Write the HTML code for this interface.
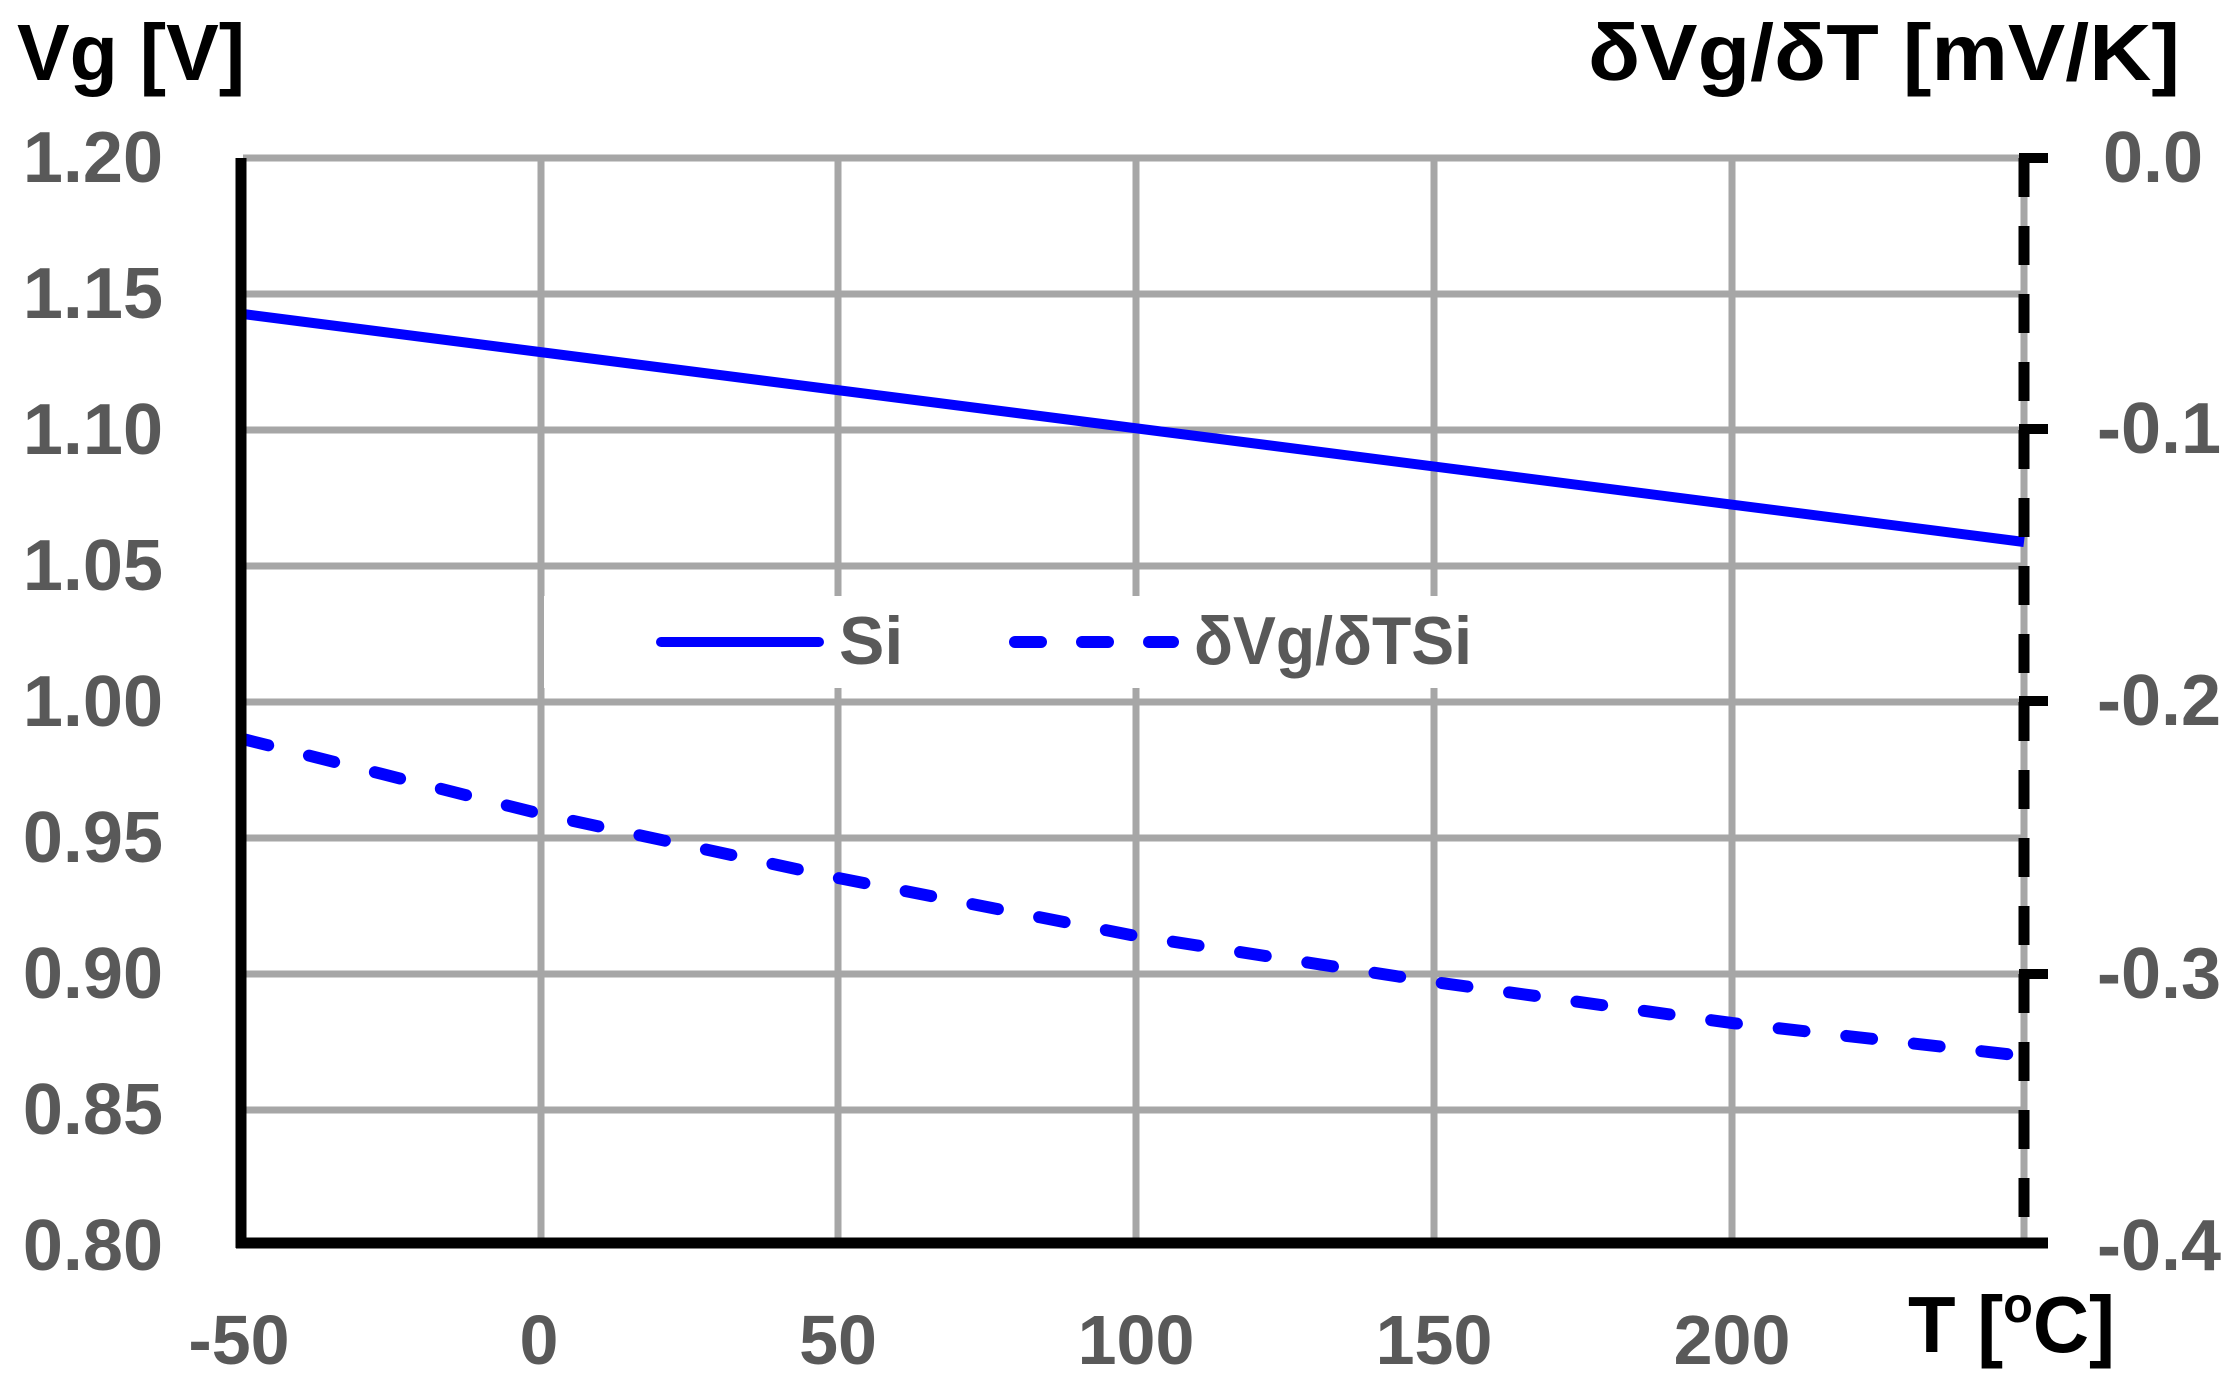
<!DOCTYPE html>
<html><head><meta charset="utf-8"><style>
html,body{margin:0;padding:0;background:#fff;}
svg{display:block;}
text{font-family:"Liberation Sans",sans-serif;font-weight:bold;}
</style></head><body>
<svg width="2233" height="1397" viewBox="0 0 2233 1397" xmlns="http://www.w3.org/2000/svg">
<rect width="2233" height="1397" fill="#fff"/>
<!-- grid -->
<g stroke="#a6a6a6" stroke-width="7">
<line x1="243" y1="158" x2="2024" y2="158"/>
<line x1="243" y1="294" x2="2024" y2="294"/>
<line x1="243" y1="430" x2="2024" y2="430"/>
<line x1="243" y1="566" x2="2024" y2="566"/>
<line x1="243" y1="702" x2="2024" y2="702"/>
<line x1="243" y1="838" x2="2024" y2="838"/>
<line x1="243" y1="974" x2="2024" y2="974"/>
<line x1="243" y1="1110" x2="2024" y2="1110"/>
<line x1="541" y1="158" x2="541" y2="1246"/>
<line x1="838" y1="158" x2="838" y2="1246"/>
<line x1="1136" y1="158" x2="1136" y2="1246"/>
<line x1="1434" y1="158" x2="1434" y2="1246"/>
<line x1="1732" y1="158" x2="1732" y2="1246"/>
<line x1="2024" y1="158" x2="2024" y2="1246"/>
</g>
<!-- legend box -->
<rect x="544" y="596" width="945" height="92" fill="#fff"/>
<!-- series -->
<line x1="243" y1="314" x2="2024" y2="542" stroke="#0000ff" stroke-width="10"/>
<polyline points="243,739 541,814 838,878 1136,936 1434,982 1732,1023 2024,1056" fill="none" stroke="#0000ff" stroke-width="12" stroke-linecap="round" stroke-dasharray="26 42"/>
<!-- axes -->
<line x1="241" y1="158" x2="241" y2="1248" stroke="#000" stroke-width="11"/>
<line x1="236" y1="1243" x2="2048" y2="1243" stroke="#000" stroke-width="11"/>
<line x1="2024" y1="158" x2="2024" y2="1243" stroke="#000" stroke-width="11" stroke-dasharray="39 29" stroke-dashoffset="0"/>
<g stroke="#000" stroke-width="10">
<line x1="2019" y1="158" x2="2048" y2="158"/>
<line x1="2019" y1="429" x2="2048" y2="429"/>
<line x1="2019" y1="701" x2="2048" y2="701"/>
<line x1="2019" y1="974" x2="2048" y2="974"/>
</g>
<!-- legend -->
<line x1="661" y1="642" x2="819" y2="642" stroke="#0000ff" stroke-width="10" stroke-linecap="round"/>
<g stroke="#0000ff" stroke-width="12" stroke-linecap="round">
<line x1="1015" y1="642" x2="1041" y2="642"/>
<line x1="1082" y1="642" x2="1108" y2="642"/>
<line x1="1149" y1="642" x2="1173" y2="642"/>
</g>
<g fill="#595959" font-size="68">
<text x="839" y="664">Si</text>
<text x="1194" y="664" textLength="278" lengthAdjust="spacingAndGlyphs">δVg/δTSi</text>
</g>
<!-- left ticks -->
<g fill="#595959" font-size="72" text-anchor="end">
<text x="163" y="182">1.20</text>
<text x="163" y="318">1.15</text>
<text x="163" y="454">1.10</text>
<text x="163" y="590">1.05</text>
<text x="163" y="726">1.00</text>
<text x="163" y="862">0.95</text>
<text x="163" y="998">0.90</text>
<text x="163" y="1134">0.85</text>
<text x="163" y="1270">0.80</text>
</g>
<!-- right ticks -->
<g fill="#595959" font-size="72">
<text x="2103" y="182">0.0</text>
<text x="2097" y="453">-0.1</text>
<text x="2097" y="725">-0.2</text>
<text x="2097" y="998">-0.3</text>
<text x="2097" y="1270">-0.4</text>
</g>
<!-- x ticks -->
<g fill="#595959" font-size="70" text-anchor="middle">
<text x="239" y="1364">-50</text>
<text x="539" y="1364">0</text>
<text x="838" y="1364">50</text>
<text x="1136" y="1364">100</text>
<text x="1434" y="1364">150</text>
<text x="1732" y="1364">200</text>
</g>
<!-- titles -->
<g fill="#000" font-size="80">
<text x="17" y="80" textLength="228" lengthAdjust="spacingAndGlyphs">Vg [V]</text>
<text x="1588" y="80" textLength="592" lengthAdjust="spacingAndGlyphs">δVg/δT [mV/K]</text>
<text x="1908" y="1352" textLength="207" lengthAdjust="spacingAndGlyphs">T [<tspan font-size="50" dy="-30">o</tspan><tspan dy="30">C]</tspan></text>
</g>
</svg>
</body></html>
